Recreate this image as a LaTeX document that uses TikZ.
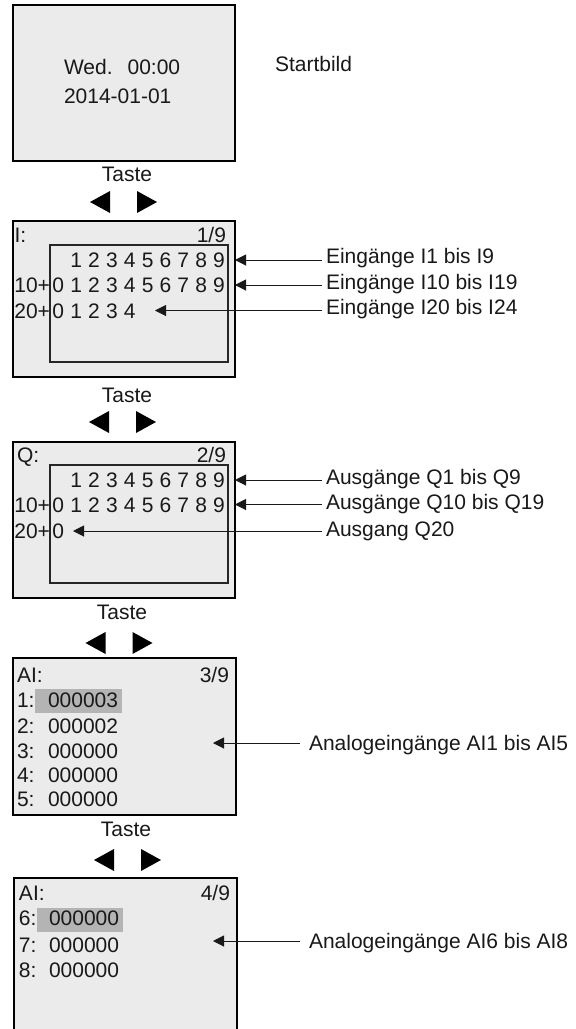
\documentclass[tikz,border=0pt]{standalone}
\usepackage{fontspec}
\setmainfont{Liberation Sans}
\usetikzlibrary{arrows.meta}
\definecolor{scr}{HTML}{EBEBEB}
\definecolor{hlc}{HTML}{B4B4B4}
\tikzset{navpair/.pic={
  \fill (-13.5,-11) -- (-33.5,0) -- (-13.5,11) -- cycle;
  \fill (13.5,-11) -- (33.5,0) -- (13.5,11) -- cycle;}}
\begin{document}
\begin{tikzpicture}[x=1pt,y=-1pt,
  screen/.style={draw=black, line width=1.5pt, fill=scr, inner sep=0pt, outer sep=0pt, anchor=north west},
  inbox/.style={draw=black!85, line width=1.2pt, inner sep=0pt, outer sep=0pt, anchor=north west},
  hl/.style={fill=hlc, draw=none, inner sep=0pt, outer sep=0pt, anchor=north west},
  txt/.style={font=\fontsize{21}{25}\selectfont, text=black!90, inner sep=0pt, outer sep=0pt, anchor=base west},
  arr/.style={line width=1pt, draw=black!90, -{Triangle[length=11pt,width=11pt]}}]
\useasboundingbox[fill=white] (0,0) rectangle (576,1029);

% ---------- Screen 1 ----------
\node[screen, minimum width=222pt, minimum height=156pt] (s1) at (13,5) {};
\node[txt] (w1) at (64,74.5) {Wed.\hspace{15pt}00:00};
\node[txt] (w2) at (64,103.5) {2014-01-01};
\node[txt] (sb) at (275,71.5) {Startbild};
\node[txt, anchor=base] (t1) at (127,181.5) {Taste};
\pic (n1) at (123.5,202) {navpair};

% ---------- Screen 2 ----------
\node[screen, minimum width=222pt, minimum height=156pt] (s2) at (13,221) {};
\node[inbox, minimum width=178pt, minimum height=117pt] (i2) at (50,245) {};
\node[txt] (h2) at (14.5,242.5) {I:};
\node[txt, anchor=base east] (p2) at (226,242.5) {1/9};
\foreach \k in {1,...,9} \node[txt, anchor=base] (ia\k) at ({58.3+17.86*\k},267.5) {\k};
\node[txt, anchor=base east] (r2b) at (50,292.5) {10+};
\foreach \k in {0,...,9} \node[txt, anchor=base] (ib\k) at ({58.3+17.86*\k},292.5) {\k};
\node[txt, anchor=base east] (r2c) at (50,318) {20+};
\foreach \k in {0,...,4} \node[txt, anchor=base] (ic\k) at ({58.3+17.86*\k},318) {\k};
\node[txt] (l21) at (326,263.5) {Eingänge I1 bis I9};
\node[txt] (l22) at (326,289) {Eingänge I10 bis I19};
\node[txt] (l23) at (326,314) {Eingänge I20 bis I24};
\coordinate (a21s) at (322,260);   \coordinate (a21e) at (235,260);
\coordinate (a22s) at (322,285);   \coordinate (a22e) at (235,285);
\coordinate (a23s) at (322,310.5); \coordinate (a23e) at (155,310.5);
\draw[arr] (a21s) -- (a21e);
\draw[arr] (a22s) -- (a22e);
\draw[arr] (a23s) -- (a23e);
\node[txt, anchor=base] (t2) at (127,402) {Taste};
\pic (n2) at (122.5,422) {navpair};

% ---------- Screen 3 ----------
\node[screen, minimum width=222pt, minimum height=156pt] (s3) at (13,442) {};
\node[inbox, minimum width=178pt, minimum height=118pt] (i3) at (50,465) {};
\node[txt] (h3) at (17,462.5) {Q:};
\node[txt, anchor=base east] (p3) at (226,462.5) {2/9};
\foreach \k in {1,...,9} \node[txt, anchor=base] (qa\k) at ({58.3+17.86*\k},487.5) {\k};
\node[txt, anchor=base east] (r3b) at (50,512.5) {10+};
\foreach \k in {0,...,9} \node[txt, anchor=base] (qb\k) at ({58.3+17.86*\k},512.5) {\k};
\node[txt, anchor=base east] (r3c) at (50,538.5) {20+};
\node[txt, anchor=base] (qc0) at (58.3,538.5) {0};
\node[txt] (l31) at (326,484.5) {Ausgänge Q1 bis Q9};
\node[txt] (l32) at (326,509.5) {Ausgänge Q10 bis Q19};
\node[txt] (l33) at (326,536) {Ausgang Q20};
\coordinate (a31s) at (322,480);   \coordinate (a31e) at (235,480);
\coordinate (a32s) at (322,504.5); \coordinate (a32e) at (235,504.5);
\coordinate (a33s) at (322,531);   \coordinate (a33e) at (73,531);
\draw[arr] (a31s) -- (a31e);
\draw[arr] (a32s) -- (a32e);
\draw[arr] (a33s) -- (a33e);
\node[txt, anchor=base] (t3) at (122,619) {Taste};
\pic (n3) at (119,643) {navpair};

% ---------- Screen 4 ----------
\node[screen, minimum width=223pt, minimum height=157pt] (s4) at (13,658) {};
\node[hl, minimum width=87pt, minimum height=24pt] (hl4) at (35,689) {};
\node[txt] (h4) at (17,682.5) {AI:};
\node[txt, anchor=base east] (p4) at (229,682.5) {3/9};
\node[txt] (k41) at (17,707.5) {1:};  \node[txt] (v41) at (48,707.5) {000003};
\node[txt] (k42) at (17,733.5) {2:};  \node[txt] (v42) at (48,733.5) {000002};
\node[txt] (k43) at (17,758.5) {3:};  \node[txt] (v43) at (48,758.5) {000000};
\node[txt] (k44) at (17,782.5) {4:};  \node[txt] (v44) at (48,782.5) {000000};
\node[txt] (k45) at (17,806.5) {5:};  \node[txt] (v45) at (48,806.5) {000000};
\node[txt] (l4) at (309,750) {Analogeingänge AI1 bis AI5};
\coordinate (a4s) at (300,743); \coordinate (a4e) at (213,743);
\draw[arr] (a4s) -- (a4e);
\node[txt, anchor=base] (t4) at (126,836.5) {Taste};
\pic (n4) at (127.5,860) {navpair};

% ---------- Screen 5 (cut at bottom) ----------
\node[fill=scr, inner sep=0pt, outer sep=0pt, anchor=north west, minimum width=223pt, minimum height=160pt] (s5) at (14,878) {};
\draw[line width=1.5pt] (s5.south west) -- (s5.north west) -- (s5.north east) -- (s5.south east);
\node[hl, minimum width=86pt, minimum height=24pt] (hl5) at (37,908) {};
\node[txt] (h5) at (19,900.5) {AI:};
\node[txt, anchor=base east] (p5) at (230,900.5) {4/9};
\node[txt] (k56) at (19,925.5) {6:};  \node[txt] (v56) at (49,925.5) {000000};
\node[txt] (k57) at (19,952.5) {7:};  \node[txt] (v57) at (49,952.5) {000000};
\node[txt] (k58) at (19,977.5) {8:};  \node[txt] (v58) at (49,977.5) {000000};
\node[txt] (l5) at (309,948) {Analogeingänge AI6 bis AI8};
\coordinate (a5s) at (300,941); \coordinate (a5e) at (213,941);
\draw[arr] (a5s) -- (a5e);
\end{tikzpicture}
\end{document}
